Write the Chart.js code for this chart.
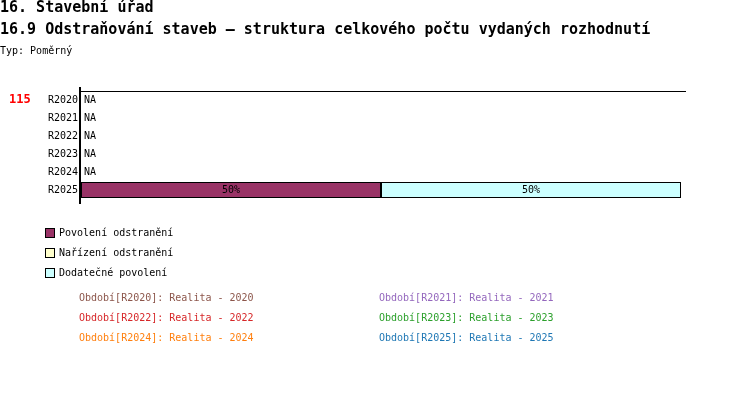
<!DOCTYPE html>
<html>
<head>
<meta charset="utf-8">
<script src="https://cdn.jsdelivr.net/npm/chart.js@4.4.0/dist/chart.umd.min.js"></script>
<style>
  body { margin: 0; background: #fff; }
  #wrap { position: relative; width: 750px; height: 416px; }
  #chart { position: absolute; left: 0; top: 0; }
</style>
</head>
<body>
<div id="wrap"><canvas id="chart" width="750" height="416"></canvas></div>
<script>
// data
const categories = ['R2020', 'R2021', 'R2022', 'R2023', 'R2024', 'R2025'];
const seriesNames = ['Povolení odstranění', 'Nařízení odstranění', 'Dodatečné povolení'];
const seriesColors = ['#993366', '#ffffcc', '#ccffff'];
const povoleni = [null, null, null, null, null, 50];
const narizeni = [null, null, null, null, null, 0];
const dodatecne = [null, null, null, null, null, 50];
const periodLabels = ['Období[R2020]: Realita - 2020', 'Období[R2021]: Realita - 2021',
  'Období[R2022]: Realita - 2022', 'Období[R2023]: Realita - 2023',
  'Období[R2024]: Realita - 2024', 'Období[R2025]: Realita - 2025'];
const periodColors = ['#8c564b', '#9467bd', '#d62728', '#2ca02c', '#ff7f0e', '#1f77b4'];

const MONO = '"DejaVu Sans Mono", "Liberation Mono", monospace';

const extras = {
  id: 'extras',
  afterDraw(chart) {
    const ctx = chart.ctx;
    const area = chart.chartArea;
    const y = chart.scales.y;
    ctx.save();
    ctx.fillStyle = '#000';
    ctx.textBaseline = 'middle';
    ctx.textAlign = 'left';

    // headings
    ctx.font = 'bold 15px ' + MONO;
    ctx.fillText('16. Stavební úřad', 0, 8);
    ctx.fillText('16.9 Odstraňování staveb – struktura celkového počtu vydaných rozhodnutí', 0, 30);
    ctx.font = '10px ' + MONO;
    ctx.fillText('Typ: Poměrný', 0, 51);

    // red count
    ctx.fillStyle = '#ff0000';
    ctx.font = 'bold 12px ' + MONO;
    ctx.fillText('115', 9, y.getPixelForValue(0));

    // axis lines
    ctx.strokeStyle = '#000';
    ctx.lineWidth = 1;
    ctx.beginPath();
    ctx.moveTo(area.left - 1, area.top + 0.5);
    ctx.lineTo(area.right + 5, area.top + 0.5);
    ctx.stroke();
    ctx.lineWidth = 2;
    ctx.beginPath();
    ctx.moveTo(area.left - 1, area.top - 4);
    ctx.lineTo(area.left - 1, area.bottom + 5);
    ctx.stroke();

    // NA labels and percent labels
    ctx.font = '10px ' + MONO;
    ctx.fillStyle = '#000';
    categories.forEach((c, i) => {
      const py = y.getPixelForValue(i);
      const empty = chart.data.datasets.every(d => d.data[i] === null);
      if (empty) {
        ctx.textAlign = 'left';
        ctx.fillText('NA', area.left + 3, py);
      }
    });
    ctx.textAlign = 'center';
    chart.data.datasets.forEach((d, di) => {
      const meta = chart.getDatasetMeta(di);
      meta.data.forEach((bar, i) => {
        const v = d.data[i];
        if (v) {
          ctx.fillText(v + '%', (bar.x + bar.base) / 2, bar.y);
        }
      });
    });

    // series legend
    ctx.textAlign = 'left';
    seriesNames.forEach((n, i) => {
      const ly = 233 + i * 20;
      ctx.fillStyle = seriesColors[i];
      ctx.fillRect(45.5, ly - 4.5, 9, 9);
      ctx.lineWidth = 1;
      ctx.strokeStyle = '#000';
      ctx.strokeRect(45.5, ly - 4.5, 9, 9);
      ctx.fillStyle = '#000';
      ctx.fillText(n, 59, ly);
    });

    // period legend
    periodLabels.forEach((t, i) => {
      ctx.fillStyle = periodColors[i];
      ctx.fillText(t, i % 2 === 0 ? 79 : 379, 298 + Math.floor(i / 2) * 20);
    });
    ctx.restore();
  }
};

const ds = [povoleni, narizeni, dodatecne].map((vals, i) => ({
  label: seriesNames[i],
  data: vals,
  backgroundColor: seriesColors[i],
  borderColor: '#000',
  borderWidth: c => (c.raw ? 1 : 0),
  borderSkipped: false,
  barPercentage: 0.88,
  categoryPercentage: 1
}));

new Chart(document.getElementById('chart'), {
  type: 'bar',
  data: { labels: categories, datasets: ds },
  options: {
    indexAxis: 'y',
    responsive: false,
    animation: false,
    layout: { padding: { top: 91, bottom: 217, right: 69, left: 0 } },
    plugins: { legend: { display: false }, tooltip: { enabled: false } },
    scales: {
      x: { stacked: true, min: 0, max: 100, display: false },
      y: {
        stacked: true,
        grid: { display: false, drawTicks: false, tickLength: 0 },
        border: { display: false },
        ticks: { color: '#000', font: { family: MONO, size: 10 }, padding: 3 },
        afterFit(scale) { scale.width = 81; }
      }
    }
  },
  plugins: [extras]
});
</script>
</body>
</html>
